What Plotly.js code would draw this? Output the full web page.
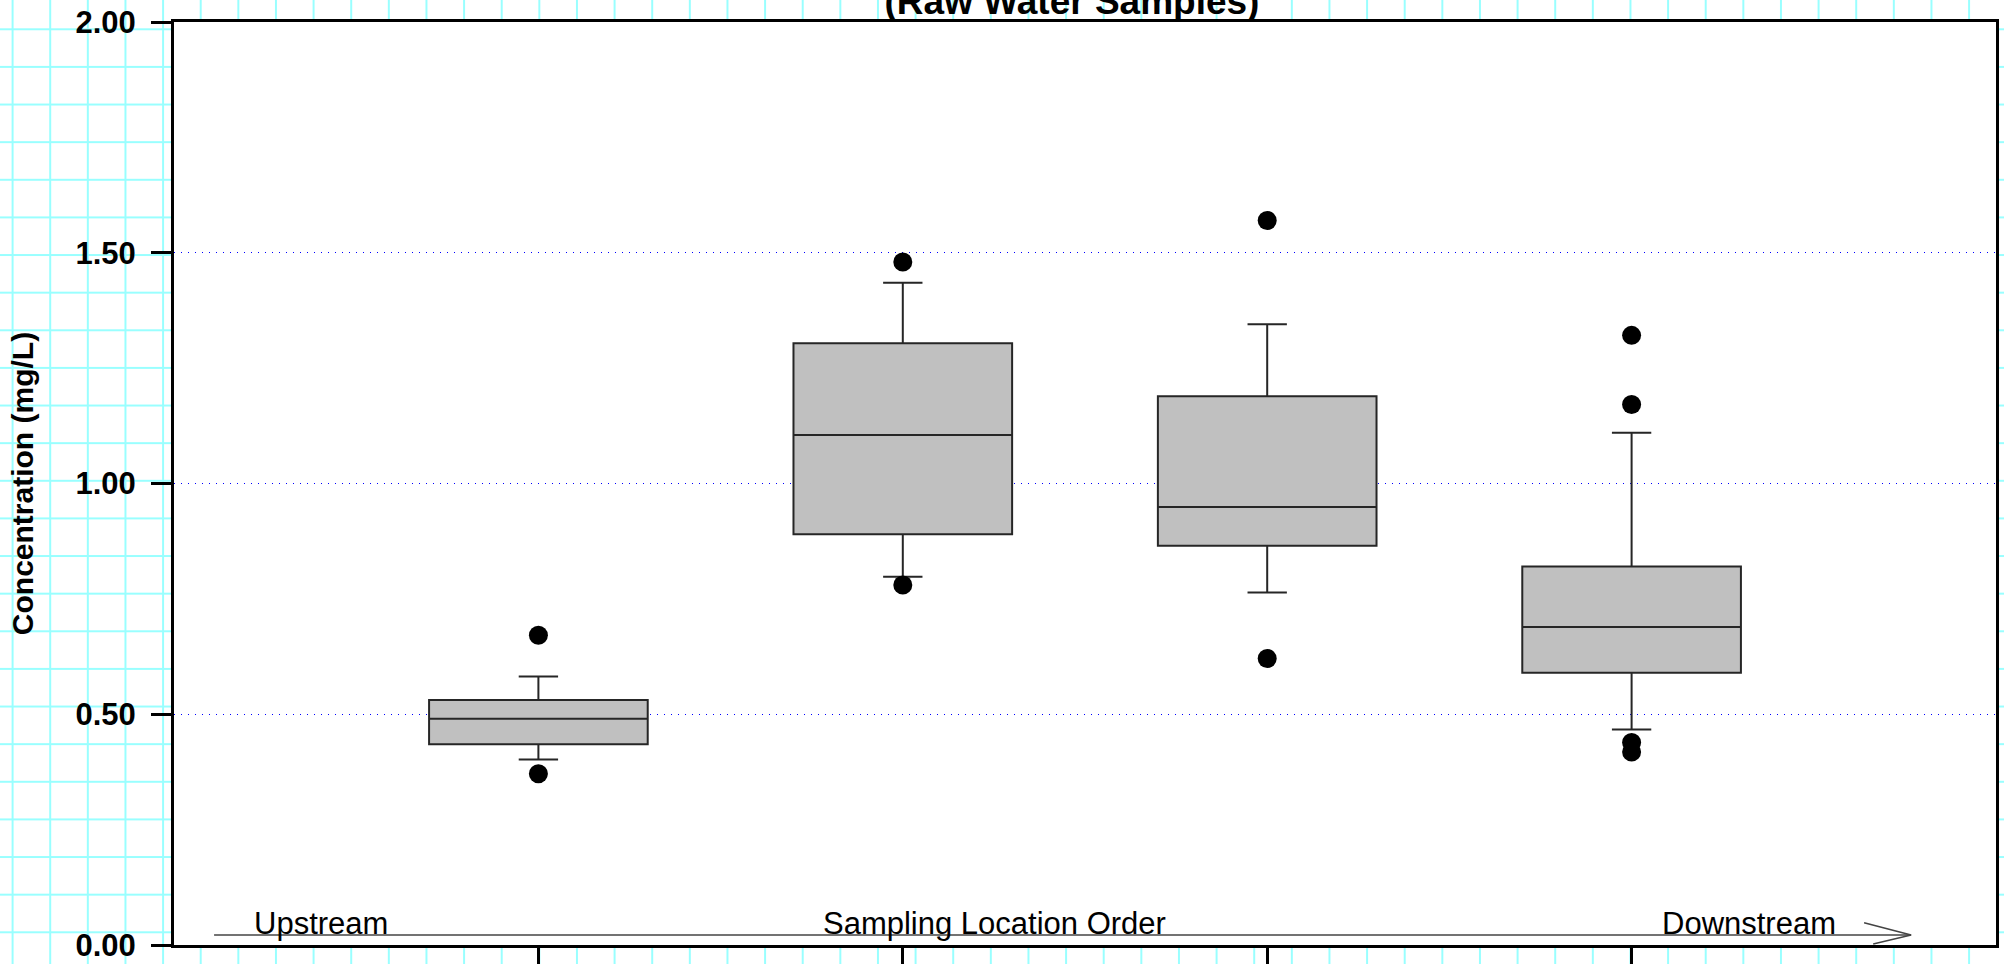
<!DOCTYPE html>
<html>
<head>
<meta charset="utf-8">
<script src="https://cdn.plot.ly/plotly-3.0.1.min.js"></script>
<style>
  html, body { margin: 0; padding: 0; width: 2004px; height: 964px; overflow: hidden; }
  body {
    background-color: #ffffff;
    background-image:
      linear-gradient(to right, #99ffff 1.5px, transparent 1.5px),
      linear-gradient(to bottom, #99ffff 1.5px, transparent 1.5px);
    background-size: 37.63px 37.63px;
    background-position: 11.6px 28.3px;
  }
  #chart { width: 2004px; height: 964px; }
</style>
</head>
<body>
<div id="chart"></div>
<script>
// ---- data ----
const locations = [1, 2, 3, 4];                       // sampling locations, upstream -> downstream
const q1        = [0.435, 0.890, 0.865, 0.590];
const medians   = [0.490, 1.105, 0.949, 0.689];
const q3        = [0.531, 1.304, 1.189, 0.820];
const lowerWhisker = [0.402, 0.798, 0.764, 0.467];
const upperWhisker = [0.582, 1.435, 1.345, 1.110];
const outlierLoc   = [1, 1, 2, 2, 3, 3, 4, 4, 4, 4];
const outlierVal   = [0.671, 0.371, 1.480, 0.780, 1.570, 0.621, 1.321, 1.171, 0.439, 0.418];
const yTickVals  = [0, 0.5, 1, 1.5, 2];
const yTickText  = ['0.00', '0.50', '1.00', '1.50', '2.00'];

const FONT = 'Liberation Sans, Arial, Helvetica, sans-serif';

const traces = [
  {
    type: 'box',
    x: locations,
    q1: q1,
    median: medians,
    q3: q3,
    lowerfence: lowerWhisker,
    upperfence: upperWhisker,
    width: 0.6,
    whiskerwidth: 0.18,
    boxpoints: false,
    fillcolor: '#c0c0c0',
    line: { color: '#262626', width: 2 },
    showlegend: false,
    hoverinfo: 'skip'
  },
  {
    type: 'scatter',
    mode: 'markers',
    x: outlierLoc,
    y: outlierVal,
    marker: { color: '#000000', size: 19, line: { width: 0 } },
    showlegend: false,
    hoverinfo: 'skip',
    cliponaxis: false
  }
];

const layout = {
  width: 2004,
  height: 964,
  paper_bgcolor: 'rgba(0,0,0,0)',
  plot_bgcolor: '#ffffff',
  margin: { l: 174, r: 8, t: 22, b: 19, pad: 0 },
  showlegend: false,
  font: { family: FONT, color: '#000000' },
  title: {
    text: '(Raw Water Samples)',
    font: { family: FONT, size: 37, weight: 700, color: '#000000' },
    xref: 'container', x: 1072 / 2004, xanchor: 'center',
    yref: 'container', y: 0.999, yanchor: 'middle'
  },
  xaxis: {
    range: [0, 5],
    tickmode: 'array',
    tickvals: locations,
    showticklabels: false,
    ticks: 'outside',
    ticklen: 20,
    tickwidth: 3,
    tickcolor: '#000000',
    showline: true,
    mirror: true,
    linewidth: 3,
    linecolor: '#000000',
    showgrid: false,
    zeroline: false,
    fixedrange: true
  },
  yaxis: {
    range: [0, 2],
    tickmode: 'array',
    tickvals: yTickVals,
    ticktext: yTickText,
    tickfont: { family: FONT, size: 31, weight: 700, color: '#000000' },
    ticks: 'outside',
    ticklen: 20,
    tickwidth: 3,
    tickcolor: '#000000',
    ticklabelstandoff: 9,
    showline: true,
    mirror: true,
    linewidth: 3,
    linecolor: '#000000',
    showgrid: true,
    gridcolor: '#0000ff',
    gridwidth: 1,
    griddash: '1px,6px',
    zeroline: false,
    fixedrange: true,
    title: {
      text: 'Concentration (mg/L)',
      font: { family: FONT, size: 30, weight: 700, color: '#000000' },
      standoff: 33
    },
    automargin: false
  },
  shapes: [
    // "Sampling Location Order" direction arrow
    { type: 'line', xref: 'x', yref: 'y', x0: 0.110, x1: 4.767, y0: 0.0217, y1: 0.0217,
      line: { color: '#444444', width: 1.5 }, layer: 'above' },
    { type: 'path', xref: 'x', yref: 'y',
      path: 'M 4.638,0.0483 L 4.767,0.0217 L 4.663,0.0022',
      line: { color: '#444444', width: 1.5 }, layer: 'above' }
  ],
  annotations: [
    { text: 'Upstream', xref: 'x', yref: 'y', x: 0.214, y: 0.047, xanchor: 'left', yanchor: 'middle',
      showarrow: false, font: { family: FONT, size: 31, color: '#000000' } },
    { text: 'Sampling Location Order', xref: 'x', yref: 'y', x: 2.253, y: 0.047, xanchor: 'center', yanchor: 'middle',
      showarrow: false, font: { family: FONT, size: 31, color: '#000000' } },
    { text: 'Downstream', xref: 'x', yref: 'y', x: 4.078, y: 0.047, xanchor: 'left', yanchor: 'middle',
      showarrow: false, font: { family: FONT, size: 31, color: '#000000' } }
  ]
};

Plotly.newPlot('chart', traces, layout, { staticPlot: true, displayModeBar: false });
</script>
</body>
</html>
